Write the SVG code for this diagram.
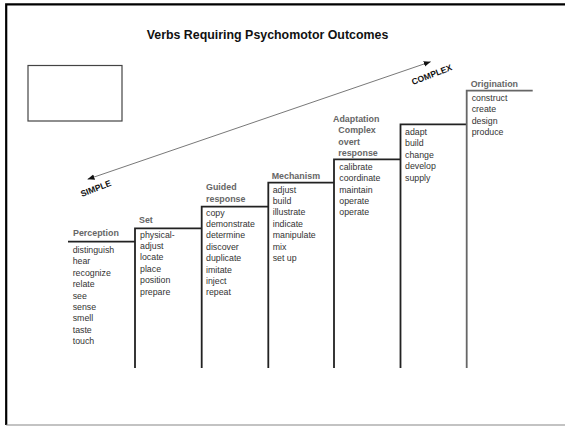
<svg xmlns="http://www.w3.org/2000/svg" width="565" height="426" viewBox="0 0 565 426">
<defs>
<marker id="ah" viewBox="0 0 10 10" refX="10" refY="5" markerWidth="7" markerHeight="7" orient="auto-start-reverse" markerUnits="userSpaceOnUse">
<path d="M0,1 L10,5 L0,9 Z" fill="#111"/>
</marker>
</defs>
<style>
text{font-family:"Liberation Sans",Arial,sans-serif}
.t{font-size:12.4px;font-weight:bold;fill:#111}
.h{font-size:8.9px;font-weight:bold;fill:#666}
.i{font-size:8.8px;fill:#333}
.d{font-size:8.6px;font-weight:bold;fill:#111}
.st{fill:none;stroke:#222;stroke-width:1.8}
.sg{fill:none;stroke:#666;stroke-width:1.8}
</style>
<rect width="565" height="426" fill="#fff"/>
<path d="M565,4.3 H6.2 V425" fill="none" stroke="#000" stroke-width="2.2"/>
<path d="M6.2,425 H565" fill="none" stroke="#888" stroke-width="1.2"/>
<text class="t" x="267.5" y="38.5" text-anchor="middle">Verbs Requiring Psychomotor Outcomes</text>
<rect id="blank-box" x="28" y="65.5" width="94" height="55.5" fill="none" stroke="#444" stroke-width="1.2"/>
<g id="connectors">
<line x1="87.5" y1="179.3" x2="430.7" y2="61.7" stroke="#555" stroke-width="0.8" marker-start="url(#ah)" marker-end="url(#ah)"/>
</g>
<text class="d" transform="translate(82,197) rotate(-21)">SIMPLE</text>
<text class="d" transform="translate(413,85) rotate(-21)">COMPLEX</text>
<g id="perception">
<path class="st" d="M68,241.7 H135"/>
<text class="h" x="73" y="236">Perception</text>
<text class="i" x="72.7" y="253"><tspan x="72.7">distinguish</tspan><tspan x="72.7" dy="11.4">hear</tspan><tspan x="72.7" dy="11.4">recognize</tspan><tspan x="72.7" dy="11.4">relate</tspan><tspan x="72.7" dy="11.4">see</tspan><tspan x="72.7" dy="11.4">sense</tspan><tspan x="72.7" dy="11.4">smell</tspan><tspan x="72.7" dy="11.4">taste</tspan><tspan x="72.7" dy="11.4">touch</tspan></text>
</g>
<g id="set">
<path class="st" d="M135,368 V228.3 H201.7"/>
<text class="h" x="139" y="223">Set</text>
<text class="i" x="140" y="237.5"><tspan x="140">physical-</tspan><tspan x="140" dy="11.4">adjust</tspan><tspan x="140" dy="11.4">locate</tspan><tspan x="140" dy="11.4">place</tspan><tspan x="140" dy="11.4">position</tspan><tspan x="140" dy="11.4">prepare</tspan></text>
</g>
<g id="guided-response">
<path class="st" d="M201.7,368 V206.7 H268.3"/>
<text class="h" x="206" y="190"><tspan x="206">Guided</tspan><tspan x="206" dy="12.4">response</tspan></text>
<text class="i" x="206" y="215.5"><tspan x="206">copy</tspan><tspan x="206" dy="11.4">demonstrate</tspan><tspan x="206" dy="11.4">determine</tspan><tspan x="206" dy="11.4">discover</tspan><tspan x="206" dy="11.4">duplicate</tspan><tspan x="206" dy="11.4">imitate</tspan><tspan x="206" dy="11.4">inject</tspan><tspan x="206" dy="11.4">repeat</tspan></text>
</g>
<g id="mechanism">
<path class="st" d="M268.3,368 V182.7 H334"/>
<text class="h" x="271.7" y="179">Mechanism</text>
<text class="i" x="272.7" y="192.5"><tspan x="272.7">adjust</tspan><tspan x="272.7" dy="11.4">build</tspan><tspan x="272.7" dy="11.4">illustrate</tspan><tspan x="272.7" dy="11.4">indicate</tspan><tspan x="272.7" dy="11.4">manipulate</tspan><tspan x="272.7" dy="11.4">mix</tspan><tspan x="272.7" dy="11.4">set up</tspan></text>
</g>
<g id="adaptation">
<path class="st" d="M334,368 V159.3 H400.5"/>
<text class="h" x="333" y="121.5"><tspan x="333">Adaptation</tspan><tspan x="338.3" dy="11.5">Complex</tspan><tspan x="338.3" dy="11.5">overt</tspan><tspan x="338.3" dy="11.5">response</tspan></text>
<text class="i" x="339.3" y="170"><tspan x="339.3">calibrate</tspan><tspan x="339.3" dy="11.3">coordinate</tspan><tspan x="339.3" dy="11.3">maintain</tspan><tspan x="339.3" dy="11.3">operate</tspan><tspan x="339.3" dy="11.3">operate</tspan></text>
</g>
<g id="adapt">
<path class="st" d="M400.5,368 V124.3 H466.7"/>
<text class="i" x="405" y="135"><tspan x="405">adapt</tspan><tspan x="405" dy="11.4">build</tspan><tspan x="405" dy="11.4">change</tspan><tspan x="405" dy="11.4">develop</tspan><tspan x="405" dy="11.4">supply</tspan></text>
</g>
<g id="origination">
<path class="sg" d="M466.7,368 V90.7 H532.7"/>
<text class="h" x="470.7" y="86.5">Origination</text>
<text class="i" x="471.7" y="101"><tspan x="471.7">construct</tspan><tspan x="471.7" dy="11.4">create</tspan><tspan x="471.7" dy="11.4">design</tspan><tspan x="471.7" dy="11.4">produce</tspan></text>
</g>
</svg>
